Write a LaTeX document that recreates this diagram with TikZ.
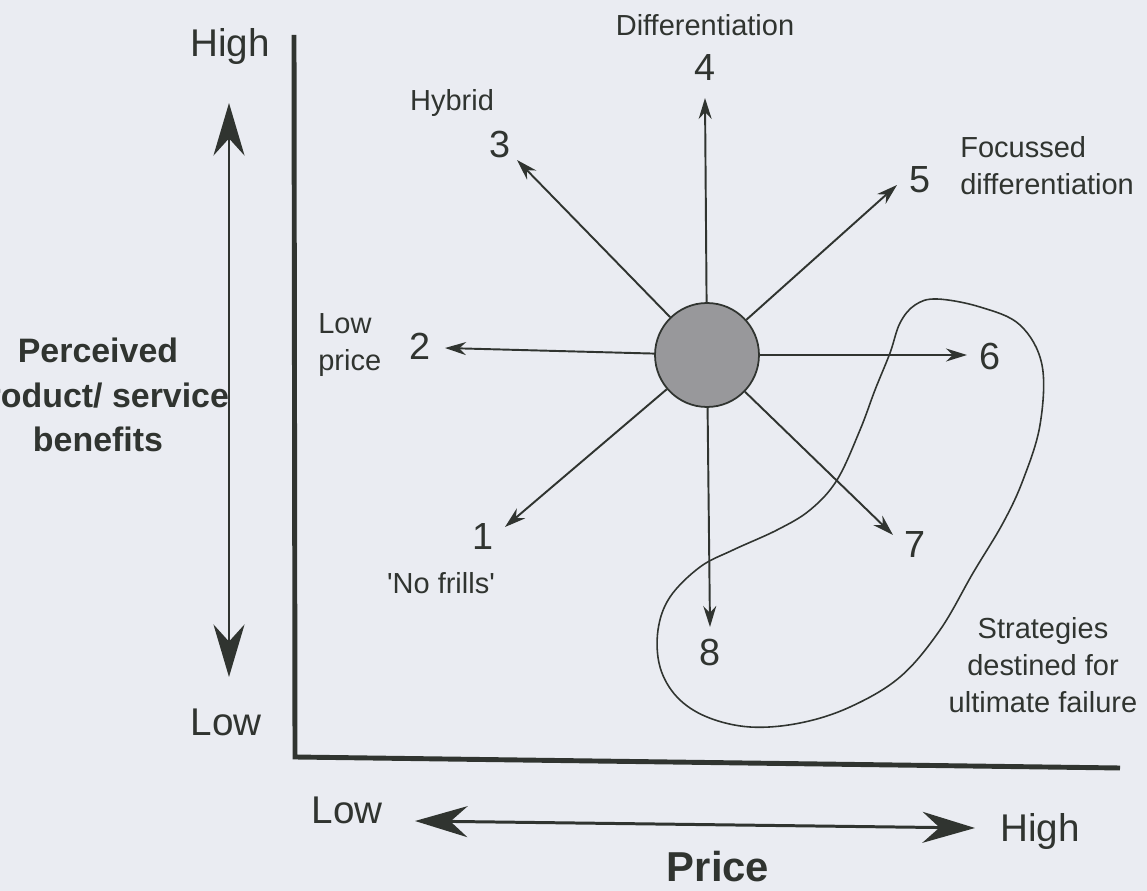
\documentclass[tikz,border=0pt]{standalone}
\usepackage{fontspec}
\setmainfont{Liberation Sans}
\usetikzlibrary{arrows.meta}
\definecolor{paper}{RGB}{234,236,242}
\definecolor{ink}{RGB}{48,52,48}
\definecolor{hubgray}{RGB}{152,152,155}

\begin{document}
\begin{tikzpicture}[x=0.02cm,y=-0.02cm,
  every node/.style={text=ink,inner sep=0pt},
  lbl/.style={font=\fontsize{16.5}{21}\selectfont,align=center},
  num/.style={font=\fontsize{21.5}{24}\selectfont},
  axlbl/.style={font=\fontsize{22}{26}\selectfont},
  ttl/.style={font=\bfseries\fontsize{19.3}{25.5}\selectfont,align=center},
  ray/.style={draw=ink,line width=1.1pt,-{Stealth[length=0.42cm,width=0.26cm]}},
  bigarr/.style={draw=ink,line width=1.7pt,
    {Stealth[length=1.05cm,width=0.62cm]}-{Stealth[length=1.05cm,width=0.62cm]}}]
\fill[paper] (0,0) rectangle (1147,891);
\useasboundingbox (0,0) rectangle (1147,891);
\clip (0,0) rectangle (1147,891);
% The two axes.
\coordinate (axtop) at (294,35);
\coordinate (axorig) at (295,757);
\coordinate (axend) at (1120,768);
\draw[ink,line width=2.8pt] (axtop) -- (axorig) -- (axend);
% Vertical scale: perceived benefits.
\coordinate (vtop) at (229,103);
\coordinate (vbot) at (229,677);
\draw[bigarr] (vbot) -- (vtop);
\node[axlbl] (vhigh) at (230,47) {High};
\node[axlbl] (vlow) at (226,722) {Low};
\node[ttl] (vtitle) at (98,395) {Perceived\\product/ service\\benefits};
% Horizontal scale: price.
\coordinate (hleft) at (415,821);
\coordinate (hright) at (975,828);
\draw[bigarr] (hleft) -- (hright);
\node[axlbl] (hlow) at (347,810) {Low};
\node[axlbl] (hhigh) at (1040,832) {High};
\node[font=\bfseries\fontsize{23.8}{28}\selectfont] (htitle) at (718,867) {Price};
% The hub and its eight routes.
\node[circle,draw=ink,fill=hubgray,line width=1pt,minimum size=2.08cm] (hub) at (707,355) {};
\foreach \n/\x/\y in {1/505/527,2/445/348,3/517/160,4/705/98,5/897/185,6/967/355,7/893/535,8/710/627}{
  \coordinate (tip\n) at (\x,\y);
  \draw[ray] (hub) -- (tip\n);
}
\foreach \n/\x/\y in {1/483/537,2/420/346,3/500/145,4/705/68,5/920/180,6/990/357,7/915/545,8/710/652}{
  \node[num] (num\n) at (\x,\y) {\n};
}
\node[lbl] (diff) at (705,25) {Differentiation};
\node[lbl] (hybrid) at (452,103) {Hybrid};
\node[lbl,align=left,anchor=west] (focdiff) at (960,166) {Focussed\\differentiation};
\node[lbl,align=left,anchor=west] (lowprice) at (318,345) {Low\\price};
\node[lbl] (nofrills) at (441,583) {\textquotesingle No frills\textquotesingle};
% Loop round the failing routes.
\draw[ink,line width=0.9pt] plot[smooth cycle,tension=0.6] coordinates {
  (937,299) (980,307) (1020,325) (1042,365) (1040,425) (1023,480) (1003,523)
  (973,573) (940,630) (900,677) (850,707) (800,723) (750,727) (707,717)
  (677,697) (660,667) (658,630) (670,597) (700,567) (733,550) (777,530)
  (810,510) (837,480) (860,430) (875,390) (890,353) (900,323) (915,305)};
\node[lbl] (failure) at (1043,665) {Strategies\\destined for\\ultimate failure};
\end{tikzpicture}
\end{document}
